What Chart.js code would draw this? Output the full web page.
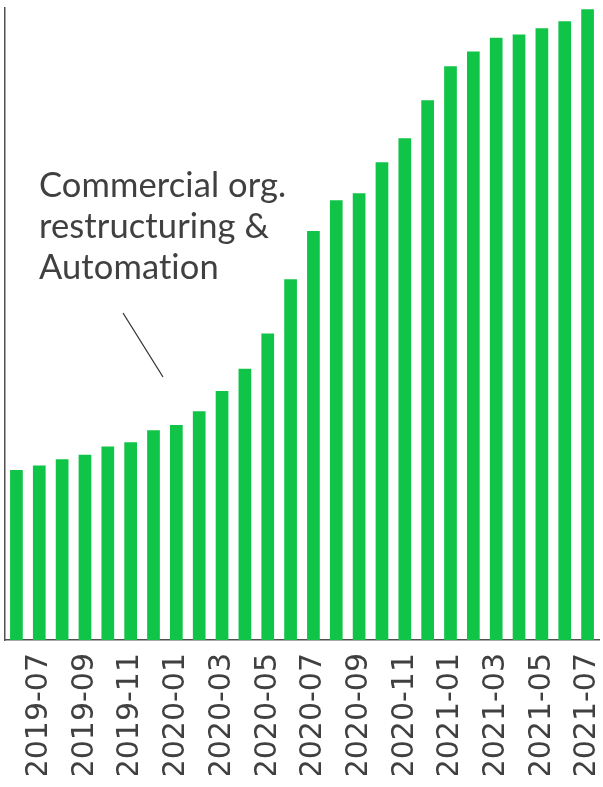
<!DOCTYPE html>
<html>
<head>
<meta charset="utf-8">
<script src="https://cdn.jsdelivr.net/npm/chart.js@4/dist/chart.umd.min.js"></script>
<style>
  html, body { margin: 0; padding: 0; background: #ffffff; }
  #wrap { width: 603px; height: 787px; position: relative; }
</style>
</head>
<body>
<div id="wrap"><canvas id="chart"></canvas></div>
<script>
// Monthly categories
const months = [
  '2019-06', '2019-07', '2019-08', '2019-09', '2019-10', '2019-11',
  '2019-12', '2020-01', '2020-02', '2020-03', '2020-04', '2020-05',
  '2020-06', '2020-07', '2020-08', '2020-09', '2020-10', '2020-11',
  '2020-12', '2021-01', '2021-02', '2021-03', '2021-04', '2021-05',
  '2021-06', '2021-07'
];

// Indexed values (axis runs 0 to 100)
const values = [
  26.9, 27.6, 28.6, 29.3, 30.6, 31.3,
  33.2, 34.0, 36.2, 39.4, 42.9, 48.5,
  57.1, 64.7, 69.6, 70.7, 75.6, 79.4,
  85.4, 90.8, 93.1, 95.3, 95.8, 96.8,
  97.9, 99.8
];

const yRange = [0, 100];

const noteLines = ['Commercial org.', 'restructuring &', 'Automation'];

const textColor = '#404040';
const barColor = '#10c447';

// Callout text with a leader line pointing at the bars
const calloutPlugin = {
  id: 'callout',
  afterDraw(chart) {
    const ctx = chart.ctx;
    ctx.save();
    ctx.fillStyle = textColor;
    ctx.font = '34.5px Lato, "Open Sans", sans-serif';
    ctx.letterSpacing = '0.1px';
    ctx.textAlign = 'left';
    ctx.textBaseline = 'alphabetic';
    noteLines.forEach((line, i) => {
      ctx.fillText(line, 39, 197 + i * 41);
    });
    ctx.strokeStyle = '#303030';
    ctx.lineWidth = 1.2;
    ctx.beginPath();
    ctx.moveTo(123, 313);
    ctx.lineTo(163, 377);
    ctx.stroke();
    ctx.restore();
  }
};

new Chart(document.getElementById('chart'), {
  type: 'bar',
  data: {
    labels: months,
    datasets: [{
      data: values,
      backgroundColor: barColor,
      borderWidth: 0,
      barPercentage: 0.556,
      categoryPercentage: 1.0
    }]
  },
  options: {
    responsive: true,
    maintainAspectRatio: false,
    animation: false,
    devicePixelRatio: 1,
    layout: { padding: { left: 5, right: 4, top: 8, bottom: 12 } },
    plugins: {
      legend: { display: false },
      tooltip: { enabled: false }
    },
    scales: {
      x: {
        grid: { display: false, drawTicks: false },
        border: { display: true, color: '#505050', width: 1.5 },
        afterFit(scale) {
          scale.height = 135;
          scale.paddingLeft = 0;
          scale.paddingRight = 0;
        },
        ticks: {
          autoSkip: false,
          maxRotation: 90,
          minRotation: 90,
          padding: 13,
          color: textColor,
          font: { family: '"DejaVu Sans", sans-serif', size: 30 },
          callback: function (val, idx) {
            return idx % 2 === 1 ? this.getLabelForValue(val) : '';
          }
        }
      },
      y: {
        min: yRange[0],
        max: yRange[1],
        grid: { display: false, drawTicks: false },
        border: { display: true, color: '#505050', width: 1.5 },
        ticks: { display: false }
      }
    }
  },
  plugins: [calloutPlugin]
});
</script>
</body>
</html>
